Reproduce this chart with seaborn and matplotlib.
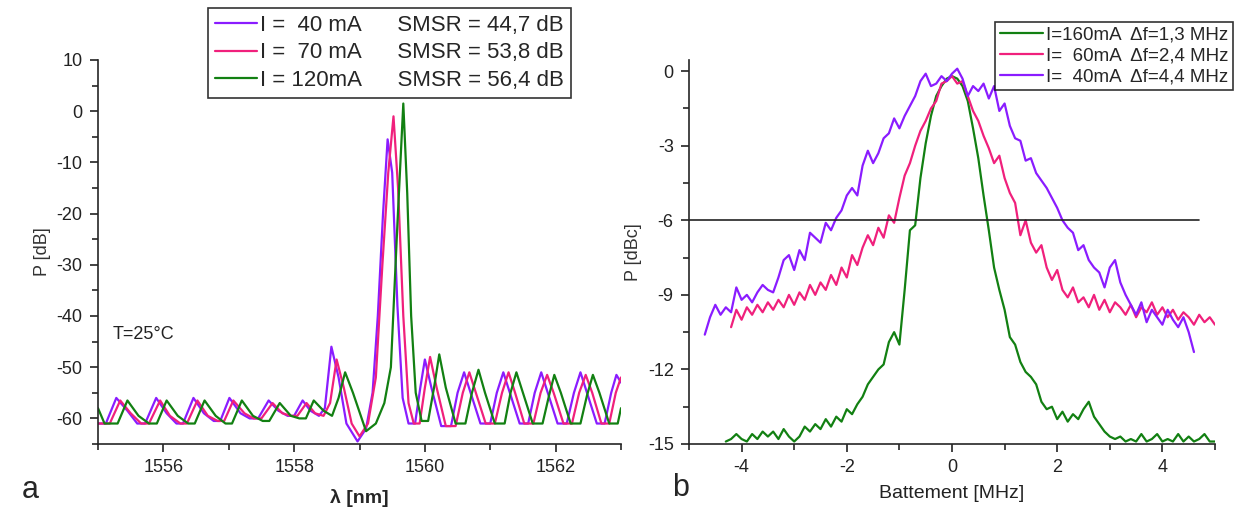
import numpy as np
import pandas as pd
import matplotlib.pyplot as plt
import seaborn as sns

# === Panel a: optical spectra ===
lam_40 = [1555.0, 1555.12, 1555.28, 1555.45, 1555.6, 1555.72, 1555.89, 1556.05, 1556.2, 1556.3,
          1556.46, 1556.62, 1556.77, 1556.87, 1557.01, 1557.18, 1557.32, 1557.45, 1557.61, 1557.76,
          1557.9, 1558.0, 1558.13, 1558.25, 1558.38, 1558.47, 1558.57, 1558.68, 1558.8, 1558.97,
          1559.1, 1559.2, 1559.28, 1559.36, 1559.43, 1559.5, 1559.58, 1559.66, 1559.75, 1559.85,
          1559.93, 1560.0, 1560.1, 1560.25, 1560.4, 1560.5, 1560.6, 1560.7, 1560.85, 1561.0,
          1561.1, 1561.2, 1561.3, 1561.45, 1561.58, 1561.68, 1561.78, 1561.88, 1562.03, 1562.17,
          1562.28, 1562.38, 1562.48, 1562.63, 1562.75, 1562.85, 1562.93, 1563.0]
p_40 = [-61, -61, -56, -58.5, -61, -61, -56, -59, -61, -61,
        -56, -59, -60.5, -60.5, -56, -59, -60, -60, -56.5, -58.5,
        -59.5, -59.5, -56.5, -58.5, -59.5, -58, -46, -52, -61, -64.5,
        -62, -55, -40, -20, -5.5, -12, -38, -56, -61, -61,
        -54, -48.5, -54, -61.5, -61.5, -55, -51, -55, -61, -61,
        -55, -51, -55, -61, -61, -55, -51, -55, -61, -61,
        -55, -51, -55, -61, -61, -55, -51.5, -53]

lam_70 = [1555.0, 1555.18, 1555.34, 1555.5, 1555.66, 1555.78, 1555.95, 1556.1, 1556.26, 1556.36,
          1556.52, 1556.68, 1556.83, 1556.93, 1557.07, 1557.24, 1557.38, 1557.5, 1557.67, 1557.82,
          1557.95, 1558.05, 1558.19, 1558.32, 1558.45, 1558.55, 1558.65, 1558.76, 1558.88, 1559.0,
          1559.13, 1559.25, 1559.35, 1559.44, 1559.52, 1559.59, 1559.67, 1559.75, 1559.83, 1559.92,
          1560.0, 1560.08, 1560.18, 1560.32, 1560.47, 1560.58, 1560.68, 1560.78, 1560.93, 1561.07,
          1561.18, 1561.28, 1561.38, 1561.52, 1561.66, 1561.77, 1561.87, 1561.97, 1562.12, 1562.25,
          1562.36, 1562.46, 1562.56, 1562.7, 1562.82, 1562.92, 1563.0]
p_70 = [-61, -61, -56.5, -59, -61, -61, -56.5, -59.5, -61, -61,
        -56.5, -59.5, -60.5, -60.5, -56.5, -59, -60, -60, -57, -59,
        -59.5, -59.5, -57, -59, -59.5, -57, -48.5, -54, -61, -63.5,
        -61, -52, -30, -12, -1, -15, -40, -57, -61, -61,
        -54, -48, -54, -61.5, -61.5, -55, -51, -55, -61, -61,
        -55, -51, -55, -61, -61, -55, -51.5, -55, -61, -61,
        -55, -51.5, -55, -61, -61, -55, -52]

lam_120 = [1555.0, 1555.1, 1555.3, 1555.45, 1555.62, 1555.78, 1555.9, 1556.05, 1556.22, 1556.38,
           1556.48, 1556.63, 1556.8, 1556.95, 1557.05, 1557.2, 1557.37, 1557.52, 1557.62, 1557.78,
           1557.95, 1558.08, 1558.18, 1558.3, 1558.45, 1558.58, 1558.68, 1558.78, 1558.9, 1559.1,
           1559.25, 1559.38, 1559.48, 1559.58, 1559.67, 1559.73, 1559.79, 1559.86, 1559.95, 1560.05,
           1560.14, 1560.22, 1560.32, 1560.47, 1560.62, 1560.72, 1560.82, 1560.92, 1561.07, 1561.22,
           1561.31, 1561.4, 1561.5, 1561.65, 1561.8, 1561.9, 1561.98, 1562.08, 1562.23, 1562.38,
           1562.48, 1562.57, 1562.67, 1562.82, 1562.95, 1563.0]
p_120 = [-58, -61, -61, -56.5, -59.5, -61, -61, -56.5, -59.5, -61,
         -61, -56.5, -59.5, -61, -61, -56.5, -59.5, -60.5, -60.5, -57,
         -59.5, -60, -60, -56.5, -58.5, -59.5, -56, -51, -55, -62.5,
         -61, -57, -50, -22, 1.5, -16, -40, -55, -60.5, -60.5,
         -54, -47.5, -54, -61, -61, -55, -50.5, -55, -61, -61,
         -55, -51, -55, -61, -61, -55.5, -51.5, -55, -61, -61,
         -55.5, -51.5, -55, -61, -61, -58]

spec_labels = ["I =  40 mA      SMSR = 44,7 dB",
               "I =  70 mA      SMSR = 53,8 dB",
               "I = 120mA      SMSR = 56,4 dB"]

# === Panel b: self-heterodyne beat spectra ===
f_160_start = -4.3
p_160 = [-14.9, -14.8, -14.6, -14.8, -14.9, -14.6, -14.8, -14.5, -14.7, -14.5,
         -14.8, -14.4, -14.7, -14.9, -14.7, -14.3, -14.5, -14.2, -14.4, -14.0,
         -14.3, -13.9, -14.1, -13.6, -13.8, -13.4, -13.1, -12.6, -12.3, -12.0,
         -11.8, -10.9, -10.5, -11.0, -8.8, -6.4, -6.2, -4.3, -2.9, -1.8,
         -1.0, -0.6, -0.3, -0.2, -0.3, -0.6, -1.2, -2.3, -3.5, -5.0,
         -6.4, -7.9, -8.8, -9.6, -10.7, -11.0, -11.7, -12.1, -12.3, -12.6,
         -13.3, -13.6, -13.5, -14.0, -13.7, -14.1, -13.8, -14.0, -13.6, -13.3,
         -13.9, -14.2, -14.5, -14.7, -14.8, -14.7, -14.9, -14.8, -14.9, -14.6,
         -14.9, -14.8, -14.6, -14.9, -14.8, -14.9, -14.6, -14.9, -14.7, -14.9,
         -14.8, -14.6, -14.9, -14.9]

f_60_start = -4.2
p_60 = [-10.3, -9.6, -10.0, -9.5, -9.8, -9.4, -9.7, -9.3, -9.6, -9.2,
        -9.5, -9.0, -9.4, -8.9, -9.2, -8.6, -9.0, -8.5, -8.8, -8.2,
        -8.6, -7.9, -8.3, -7.4, -7.8, -7.1, -6.6, -7.0, -6.3, -6.7,
        -5.8, -6.1, -5.1, -4.2, -3.7, -3.0, -2.4, -2.0, -1.5, -1.2,
        -0.5, -0.4, -0.2, -0.5, -0.4, -1.0, -1.6, -2.0, -2.6, -3.1,
        -3.7, -3.4, -4.3, -4.9, -5.3, -6.6, -6.0, -6.9, -7.3, -7.0,
        -7.9, -8.4, -8.0, -8.8, -9.1, -8.7, -9.3, -9.1, -9.5, -9.0,
        -9.6, -9.2, -9.7, -9.3, -9.5, -9.8, -9.4, -9.9, -9.5, -9.7,
        -9.3, -9.8, -9.5, -9.9, -9.6, -10.0, -9.7, -9.9, -10.2, -9.8,
        -10.1, -9.9, -10.2]

f_40_start = -4.7
p_40b = [-10.6, -9.9, -9.4, -9.8, -9.5, -9.7, -8.7, -9.2, -9.0, -9.3,
         -8.9, -8.6, -8.8, -8.9, -8.3, -7.6, -7.4, -8.0, -7.2, -7.6,
         -6.5, -6.7, -6.9, -6.1, -6.4, -5.9, -5.6, -5.0, -4.7, -5.0,
         -3.8, -3.2, -3.7, -3.3, -2.7, -2.5, -1.9, -2.3, -1.8, -1.4,
         -1.0, -0.4, -0.1, -0.6, -0.5, -0.2, -0.4, -0.1, 0.1, -0.3,
         -1.0, -0.6, -0.8, -0.5, -1.1, -0.6, -1.6, -1.3, -2.2, -2.7,
         -2.8, -3.6, -3.5, -4.1, -4.4, -4.7, -5.1, -5.5, -6.0, -6.3,
         -6.5, -7.2, -7.0, -7.6, -7.9, -8.1, -8.7, -7.9, -7.6, -8.5,
         -9.0, -9.4, -9.8, -9.3, -10.1, -9.6, -9.9, -10.2, -9.6, -10.0,
         -10.3, -9.9, -10.5, -11.3]
f_step = 0.1

beat_labels = ["I=160mA  \u0394f=1,3 MHz",
               "I=  60mA  \u0394f=2,4 MHz",
               "I=  40mA  \u0394f=4,4 MHz"]

purple = "#8a1cff"
pink = "#f0207c"
green = "#128012"

sns.set_theme(style="ticks")
plt.rcParams["font.family"] = ["Liberation Sans", "DejaVu Sans"]
plt.rcParams["axes.unicode_minus"] = False
plt.rcParams["xtick.direction"] = "out"
plt.rcParams["ytick.direction"] = "out"

fig = plt.figure(figsize=(12.47, 5.13), dpi=100)
W, H = 1247, 513
ax1 = fig.add_axes([98 / W, 1 - 444 / H, 523 / W, 384 / H])
ax2 = fig.add_axes([689 / W, 1 - 444 / H, 526 / W, 384 / H])

# --- panel a ---
for lam, p, c, lab in [(lam_40, p_40, purple, spec_labels[0]),
                       (lam_70, p_70, pink, spec_labels[1]),
                       (lam_120, p_120, green, spec_labels[2])]:
    sns.lineplot(x=lam, y=p, ax=ax1, color=c, lw=1.6, label=lab, sort=False, estimator=None)

ax1.set_xlim(1555, 1563)
ax1.set_ylim(-65, 10)
ax1.set_xticks([1556, 1558, 1560, 1562])
ax1.set_xticks(np.arange(1555, 1564, 1), minor=True)
ax1.set_yticks(np.arange(-60, 11, 10))
ax1.set_yticks(np.arange(-65, 11, 5), minor=True)
ax1.set_xlabel("\u03bb [nm]", fontsize=14, fontweight="bold", labelpad=9)
ax1.set_ylabel("P [dB]", fontsize=13, color="#333333")
ax1.text(1555.23, -43.6, "T=25\u00b0C", fontsize=13, va="center", color="#222222")
leg1 = ax1.legend(loc="upper left", bbox_to_anchor=(208 / W, 1 - 8 / H),
                  bbox_transform=fig.transFigure, fontsize=16, frameon=True,
                  fancybox=False, edgecolor="black", handlelength=1.9,
                  handletextpad=0.15, borderpad=0.3, labelspacing=0.3,
                  borderaxespad=0)
leg1.get_frame().set_linewidth(1.2)

# --- panel b ---
for start, p, c, lab in [(f_160_start, p_160, green, beat_labels[0]),
                         (f_60_start, p_60, pink, beat_labels[1]),
                         (f_40_start, p_40b, purple, beat_labels[2])]:
    f = np.round(start + f_step * np.arange(len(p)), 2)
    df = pd.DataFrame({"f": f, "p": p})
    sns.lineplot(data=df, x="f", y="p", ax=ax2, color=c, lw=1.6, label=lab,
                 sort=False, estimator=None)

ax2.plot([-5, 4.7], [-6, -6], color="#222222", lw=1.2)
ax2.set_xlim(-5, 5)
ax2.set_ylim(-15, 0.45)
ax2.set_xticks([-4, -2, 0, 2, 4])
ax2.set_xticks(np.arange(-5, 6, 1), minor=True)
ax2.set_yticks(np.arange(-15, 1, 3))
ax2.set_yticks(np.arange(-15, 1, 1.5), minor=True)
ax2.set_xlabel("Battement [MHz]", fontsize=14, color="#222222", labelpad=6)
ax2.set_ylabel("P [dBc]", fontsize=13, color="#333333")
leg2 = ax2.legend(loc="upper left", bbox_to_anchor=(995 / W, 1 - 22 / H),
                  bbox_transform=fig.transFigure, fontsize=13.5, frameon=True,
                  fancybox=False, edgecolor="black", handlelength=2.3,
                  handletextpad=0.15, borderpad=0.25, labelspacing=0.2,
                  borderaxespad=0)
leg2.get_frame().set_linewidth(1.2)

for ax in (ax1, ax2):
    sns.despine(ax=ax)
    ax.spines["left"].set_linewidth(1.2)
    ax.spines["bottom"].set_linewidth(1.2)
    ax.tick_params(which="major", length=6, width=1.2, labelsize=13, colors="#222222", pad=5)
    ax.tick_params(which="minor", length=4, width=1.2)

fig.text(22 / W, 1 - 490 / H, "a", fontsize=22, va="center")
fig.text(672 / W, 1 - 488 / H, "b", fontsize=22, va="center")

fig.savefig("out.png", dpi=100)
